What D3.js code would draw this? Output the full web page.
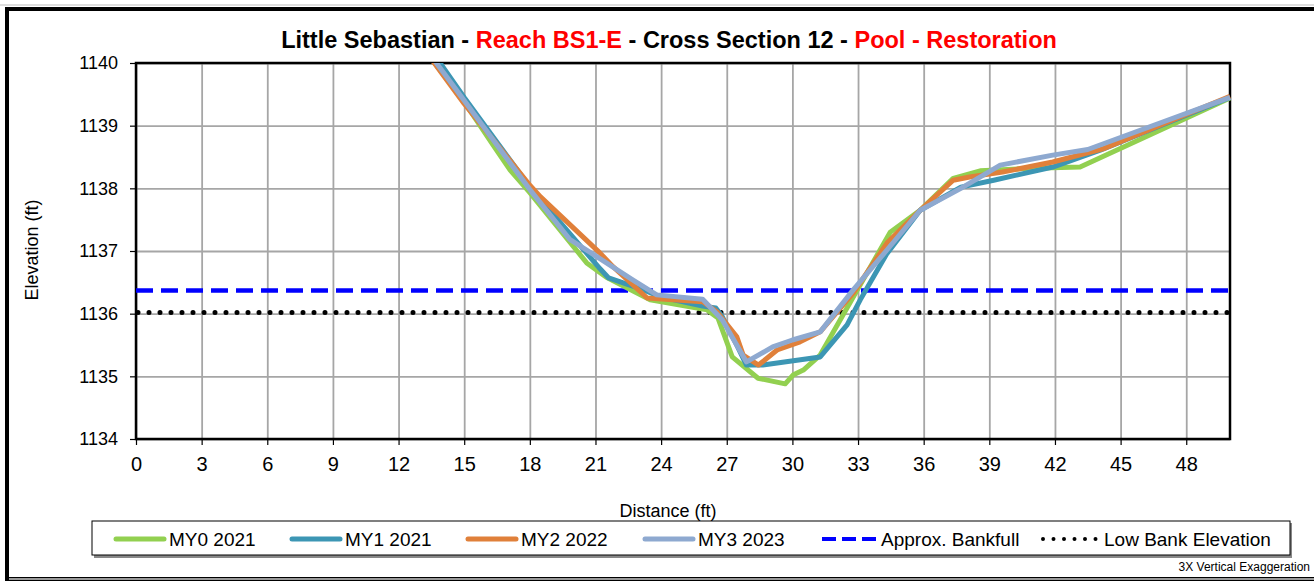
<!DOCTYPE html>
<html>
<head>
<meta charset="utf-8">
<style>
  body { margin: 0; background: #fff; }
  svg { display: block; font-family: "Liberation Sans", Arial, sans-serif; }
  .axis text { font-size: 18px; fill: #000; }
  .axis path, .axis line { stroke: #000; }
</style>
</head>
<body>
<svg id="chart" width="1314" height="581"></svg>
<script src="https://d3js.org/d3.v7.min.js"></script>
<script>
// survey points: [distance (ft), elevation (ft)]
const my0_2021 = [[13.0,1140.3],[15,1139.38],[16.3,1138.7],[17.1,1138.29],[18,1137.93],[20.6,1136.81],[21.5,1136.58],
  [23.5,1136.22],[26.1,1136.06],[26.6,1135.93],[27.25,1135.31],[28.43,1134.97],[29.67,1134.88],[30.03,1135.02],
  [30.5,1135.1],[31.27,1135.34],[34.47,1137.3],[35.84,1137.65],[37.35,1138.16],[38.58,1138.28],[41.0,1138.32],
  [43.15,1138.34],[50,1139.44]];
const my1_2021 = [[13.4,1140.25],[15,1139.45],[18,1138.02],[21.2,1136.72],[21.6,1136.57],[23.2,1136.38],[23.95,1136.27],
  [25.9,1136.12],[26.5,1136.09],[26.8,1135.95],[27.5,1135.47],[27.9,1135.18],[28.65,1135.18],[31.27,1135.31],
  [32.5,1135.82],[33.1,1136.22],[34.3,1136.95],[35.84,1137.65],[37.7,1138.02],[39.2,1138.13],[41.9,1138.34],
  [44.07,1138.61],[50,1139.45]];
const my2_2022 = [[13.0,1140.3],[15,1139.35],[18,1138.05],[18.5,1137.86],[21.2,1136.97],[21.8,1136.75],[23.36,1136.25],
  [25.9,1136.19],[26.55,1136.03],[27.46,1135.63],[27.75,1135.34],[28.45,1135.18],[29.3,1135.42],[30.35,1135.55],
  [31.27,1135.71],[32.78,1136.33],[34.33,1137.13],[35.84,1137.65],[37.35,1138.13],[38.1,1138.18],[39.6,1138.26],
  [41.9,1138.42],[44.2,1138.63],[50,1139.47]];
const my3_2023 = [[13.2,1140.25],[15,1139.4],[18,1137.98],[19.84,1137.18],[21.2,1136.88],[22.7,1136.54],[23.8,1136.3],
  [25.9,1136.23],[26.8,1135.9],[27.9,1135.23],[29.1,1135.47],[30.0,1135.58],[31.27,1135.71],[32.78,1136.38],
  [34.33,1137.02],[35.84,1137.65],[37.7,1138.0],[39.5,1138.37],[41.9,1138.53],[43.5,1138.62],[50,1139.45]];

const bankfullElev = 1136.37;
const lowBankElev = 1136.02;

const seriesNames = ["MY0 2021", "MY1 2021", "MY2 2022", "MY3 2023"];
const seriesColors = ["#92d050", "#3c96b4", "#e0803a", "#8ea9d0"];
const xTicks = d3.range(0, 49, 3);
const yTicks = [1134, 1135, 1136, 1137, 1138, 1139, 1140];

const svg = d3.select("#chart");

// outer frame
svg.append("line").attr("x1", 0).attr("x2", 1314).attr("y1", 5).attr("y2", 5)
  .attr("stroke", "#bbb").attr("stroke-width", 1);
svg.append("rect").attr("x", 7).attr("y", 9).attr("width", 1320).attr("height", 570)
  .attr("fill", "none").attr("stroke", "#000").attr("stroke-width", 4);
svg.append("line").attr("x1", 9).attr("x2", 1314).attr("y1", 579).attr("y2", 579)
  .attr("stroke", "#999").attr("stroke-width", 2);

const pL = 136, pR = 1230, pT = 63, pB = 439;
const x = d3.scaleLinear().domain([0, 50]).range([pL, pR]);
const y = d3.scaleLinear().domain([1134, 1140]).range([pB, pT]);

// grid
svg.append("g").attr("transform", `translate(0,${pB})`)
  .call(d3.axisBottom(x).tickValues(xTicks).tickSize(-(pB - pT)).tickFormat(""))
  .call(g => g.select(".domain").remove())
  .selectAll("line").attr("stroke", "#a6a6a6").attr("stroke-width", 1.8);
svg.append("g").attr("transform", `translate(${pL},0)`)
  .call(d3.axisLeft(y).tickValues(yTicks).tickSize(-(pR - pL)).tickFormat(""))
  .call(g => g.select(".domain").remove())
  .selectAll("line").attr("stroke", "#a6a6a6").attr("stroke-width", 1.8);

// axes
svg.append("g").attr("class", "axis").attr("transform", `translate(0,${pB})`)
  .call(d3.axisBottom(x).tickValues(xTicks).tickSize(6).tickSizeOuter(0).tickPadding(12))
  .call(g => g.select(".domain").remove())
  .call(g => g.selectAll("text").style("font-size", "20px"))
  .selectAll("line").attr("stroke-width", 1.2);
svg.append("g").attr("class", "axis").attr("transform", `translate(${pL},0)`)
  .call(d3.axisLeft(y).tickValues(yTicks).tickSize(6).tickSizeOuter(0).tickPadding(12).tickFormat(d3.format("d")))
  .call(g => g.select(".domain").remove())
  .selectAll("line").attr("stroke-width", 1.2);

svg.append("rect").attr("x", pL).attr("y", pT).attr("width", pR - pL).attr("height", pB - pT)
  .attr("fill", "none").attr("stroke", "#000").attr("stroke-width", 2.5);

// reference lines
svg.append("line").attr("x1", x(0)).attr("x2", x(50)).attr("y1", y(bankfullElev)).attr("y2", y(bankfullElev))
  .attr("stroke", "#0000ff").attr("stroke-width", 4.5).attr("stroke-dasharray", "17 8");
svg.append("line").attr("x1", x(0) + 2).attr("x2", x(50)).attr("y1", y(lowBankElev)).attr("y2", y(lowBankElev))
  .attr("stroke", "#000").attr("stroke-width", 5).attr("stroke-linecap", "round").attr("stroke-dasharray", "0 11");

// survey lines
svg.append("clipPath").attr("id", "clip").append("rect")
  .attr("x", pL - 10).attr("y", pT).attr("width", pR - pL + 20).attr("height", pB - pT);
const line = d3.line().x(d => x(d[0])).y(d => y(d[1]));
const plotG = svg.append("g").attr("clip-path", "url(#clip)");
[my0_2021, my1_2021, my2_2022, my3_2023].forEach((s, i) => {
  plotG.append("path").datum(s).attr("d", line).attr("fill", "none")
    .attr("stroke", seriesColors[i]).attr("stroke-width", 5).attr("stroke-linejoin", "round");
});

// title
const title = svg.append("text").attr("x", 669).attr("y", 48).attr("text-anchor", "middle")
  .style("font-size", "23.5px").style("font-weight", "bold");
title.append("tspan").text("Little Sebastian - ");
title.append("tspan").attr("fill", "#ff0000").text("Reach BS1-E");
title.append("tspan").text(" - Cross Section 12 - ");
title.append("tspan").attr("fill", "#ff0000").text("Pool - Restoration");

// axis titles
svg.append("text").attr("x", 668).attr("y", 517).attr("text-anchor", "middle")
  .style("font-size", "18px").text("Distance (ft)");
svg.append("text").attr("transform", "translate(38,250) rotate(-90)").attr("text-anchor", "middle")
  .style("font-size", "18px").text("Elevation (ft)");

// legend
const lg = svg.append("g");
lg.append("rect").attr("x", 94).attr("y", 523).attr("width", 1198).attr("height", 35).attr("fill", "#888");
lg.append("rect").attr("x", 92).attr("y", 521).attr("width", 1198).attr("height", 34)
  .attr("fill", "#fff").attr("stroke", "#000").attr("stroke-width", 1);
const lgY = 539;
const lgStarts = [116, 292, 468, 645];
seriesNames.forEach((n, i) => {
  lg.append("line").attr("x1", lgStarts[i]).attr("x2", lgStarts[i] + 48).attr("y1", lgY).attr("y2", lgY)
    .attr("stroke", seriesColors[i]).attr("stroke-width", 5).attr("stroke-linecap", "round");
  lg.append("text").attr("x", lgStarts[i] + 53).attr("y", lgY + 6.5).style("font-size", "19px").text(n);
});
lg.append("line").attr("x1", 822).attr("x2", 876).attr("y1", lgY).attr("y2", lgY)
  .attr("stroke", "#0000ff").attr("stroke-width", 4).attr("stroke-dasharray", "14 6");
lg.append("text").attr("x", 881).attr("y", lgY + 6.5).style("font-size", "19px").text("Approx. Bankfull");
lg.append("line").attr("x1", 1043).attr("x2", 1096).attr("y1", lgY).attr("y2", lgY)
  .attr("stroke", "#000").attr("stroke-width", 4).attr("stroke-linecap", "round").attr("stroke-dasharray", "0 10.5");
lg.append("text").attr("x", 1104).attr("y", lgY + 6.5).style("font-size", "19px").text("Low Bank Elevation");

svg.append("text").attr("x", 1310).attr("y", 571).attr("text-anchor", "end")
  .style("font-size", "12px").text("3X Vertical Exaggeration");
</script>
</body>
</html>
